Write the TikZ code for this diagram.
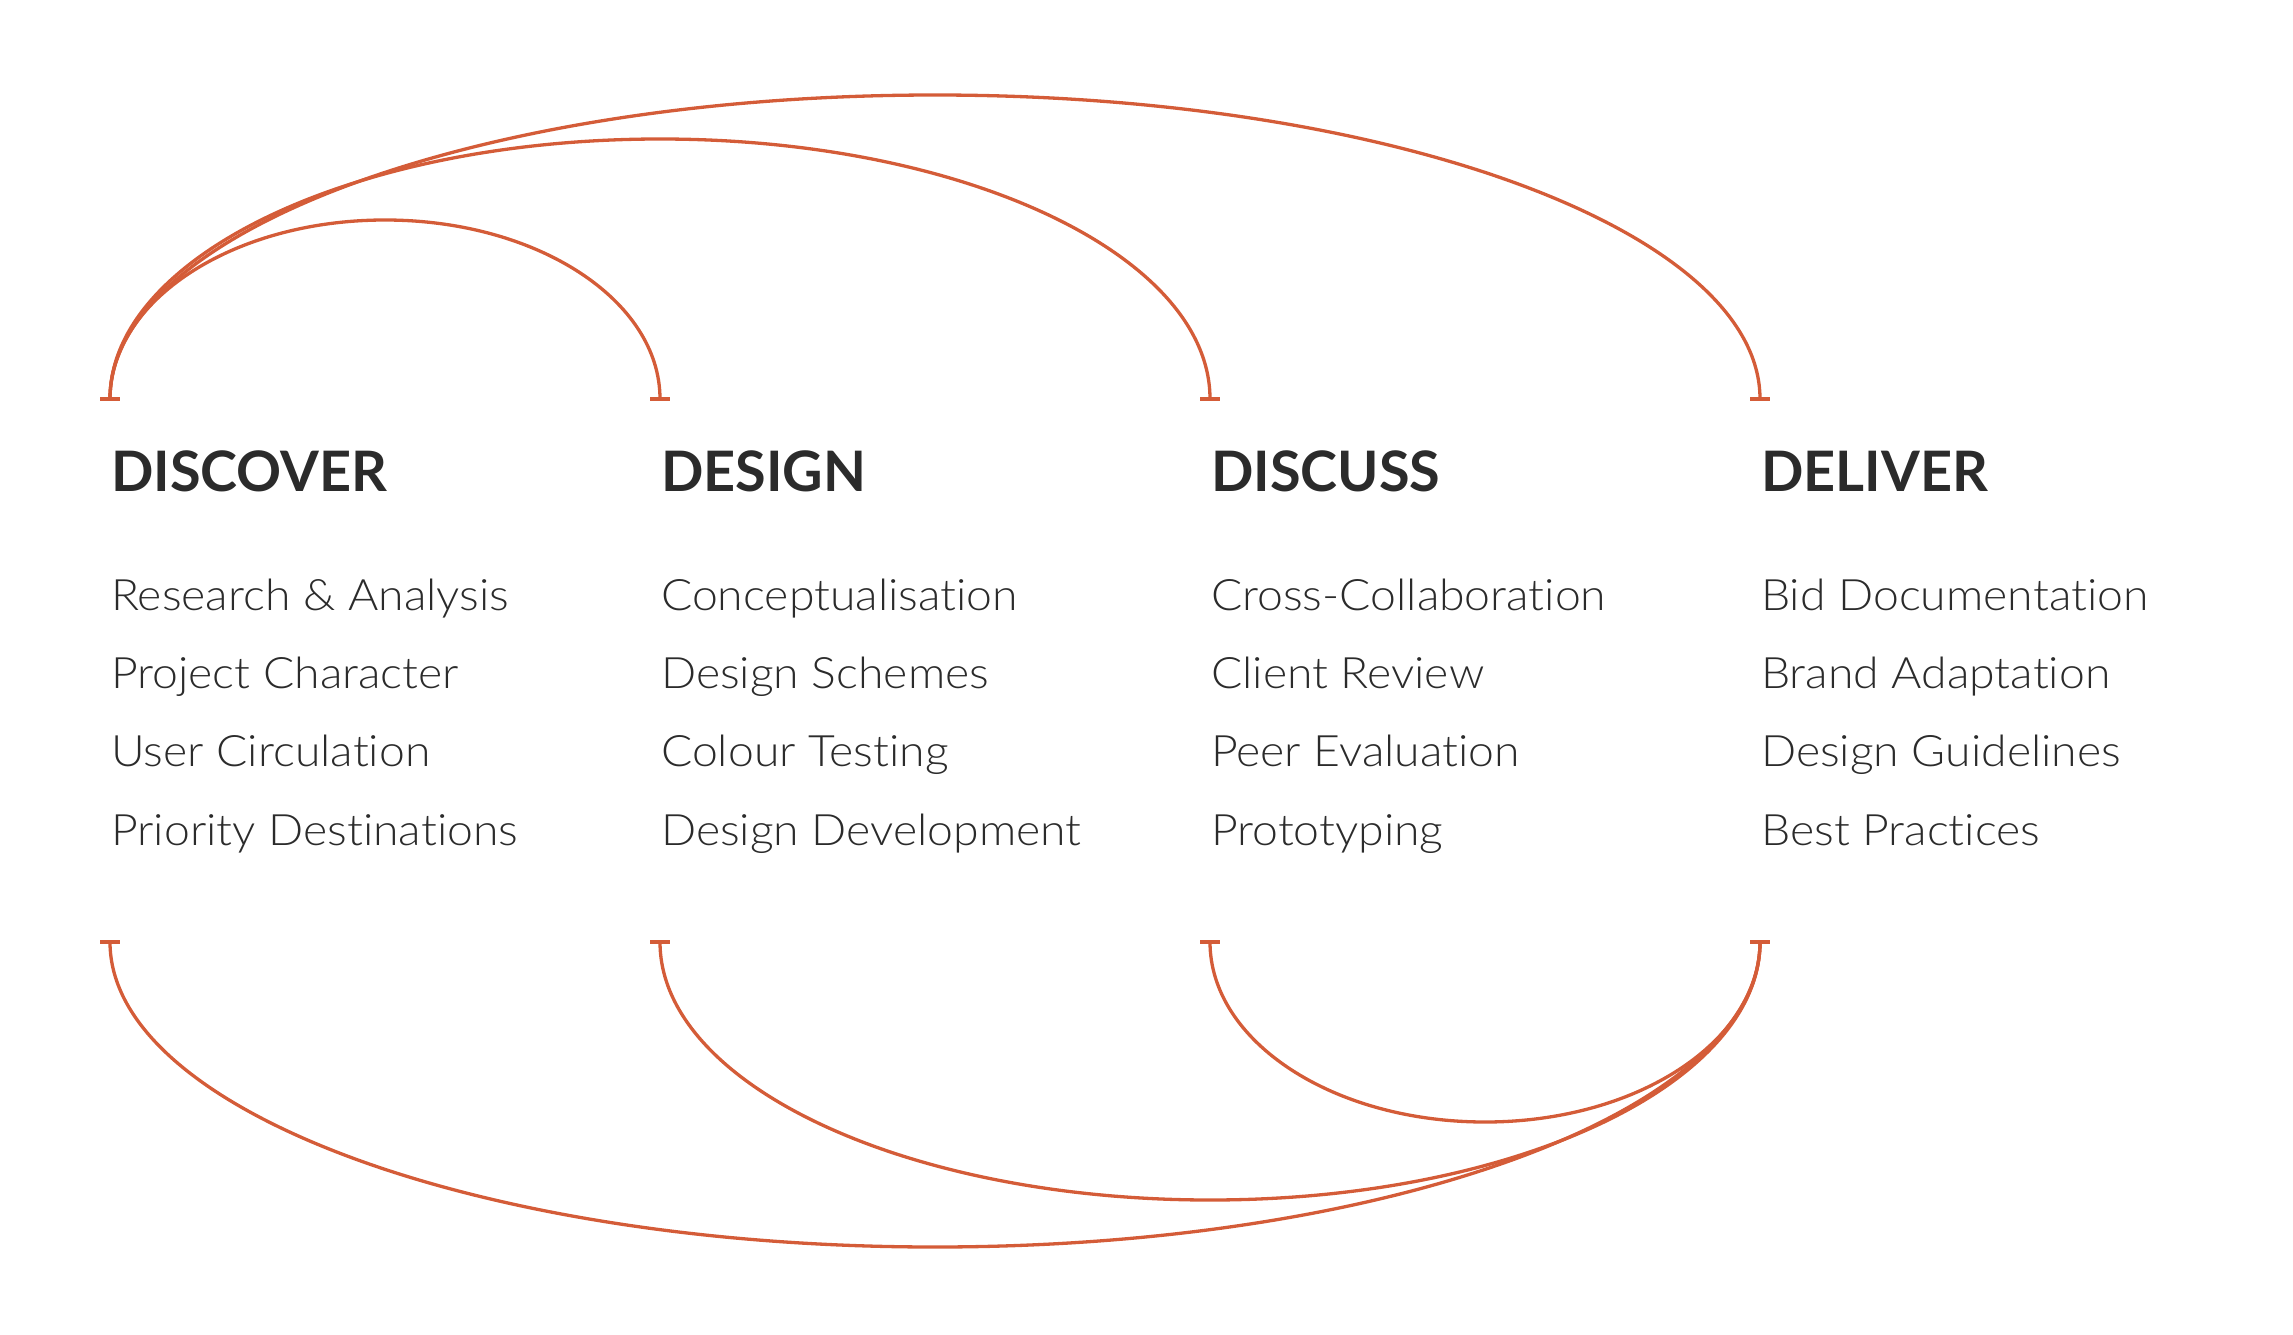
\documentclass[tikz,border=0pt]{standalone}
\usepackage{fontspec}
\setmainfont{Lato}
\newfontfamily\itemfont{Lato Light}[Ligatures=NoCommon, FakeStretch=1.07]
\definecolor{arccol}{RGB}{212,92,56}
\definecolor{txtcol}{RGB}{43,43,43}
\tikzset{
  arcline/.style={draw=arccol, line width=3.3pt},
  tickbar/.style={draw=arccol, line width=4.5pt},
  heading/.style={anchor=base west, inner sep=0pt, text=txtcol, font=\bfseries\fontsize{55.8}{60}\selectfont},
  itemtext/.style={anchor=base west, inner sep=0pt, text=txtcol, font=\itemfont\fontsize{43.3}{50}\selectfont}
}
\begin{document}
\begin{tikzpicture}[x=1pt,y=-1pt]
\useasboundingbox (0,0) rectangle (2293,1335);
% endpoints
\foreach \i/\xx in {0/110,1/660,2/1210,3/1760}{
  \coordinate (t\i) at (\xx,399);
  \coordinate (b\i) at (\xx,942);
}
% top arcs
\draw[arcline] (t0) arc[start angle=180, end angle=360, x radius=275, y radius=179];
\draw[arcline] (t0) arc[start angle=180, end angle=360, x radius=550, y radius=260];
\draw[arcline] (t0) arc[start angle=180, end angle=360, x radius=825, y radius=304];
% bottom arcs
\draw[arcline] (b2) arc[start angle=180, end angle=0, x radius=275, y radius=180];
\draw[arcline] (b1) arc[start angle=180, end angle=0, x radius=550, y radius=258];
\draw[arcline] (b0) arc[start angle=180, end angle=0, x radius=825, y radius=305];
% tick bars
\foreach \i in {0,1,2,3}{
  \draw[tickbar] ([xshift=-10pt]t\i) -- ([xshift=10pt]t\i);
  \draw[tickbar] ([xshift=-10pt]b\i) -- ([xshift=10pt]b\i);
}
% headings
\node[heading] (h0) at (111,491) {DISCOVER};
\node[heading] (h1) at (661,491) {DESIGN};
\node[heading] (h2) at (1211,491) {DISCUSS};
\node[heading] (h3) at (1761,491) {DELIVER};
% items
\node[itemtext] (i00) at (111,610) {Research \& Analysis};
\node[itemtext] (i01) at (111,688.3) {Project Character};
\node[itemtext] (i02) at (111,766.6) {User Circulation};
\node[itemtext] (i03) at (111,845) {Priority Destinations};
\node[itemtext] (i10) at (661,610) {Conceptualisation};
\node[itemtext] (i11) at (661,688.3) {Design Schemes};
\node[itemtext] (i12) at (661,766.6) {Colour Testing};
\node[itemtext] (i13) at (661,845) {Design Development};
\node[itemtext] (i20) at (1211,610) {Cross-Collaboration};
\node[itemtext] (i21) at (1211,688.3) {Client Review};
\node[itemtext] (i22) at (1211,766.6) {Peer Evaluation};
\node[itemtext] (i23) at (1211,845) {Prototyping};
\node[itemtext] (i30) at (1761,610) {Bid Documentation};
\node[itemtext] (i31) at (1761,688.3) {Brand Adaptation};
\node[itemtext] (i32) at (1761,766.6) {Design Guidelines};
\node[itemtext] (i33) at (1761,845) {Best Practices};
\end{tikzpicture}
\end{document}
